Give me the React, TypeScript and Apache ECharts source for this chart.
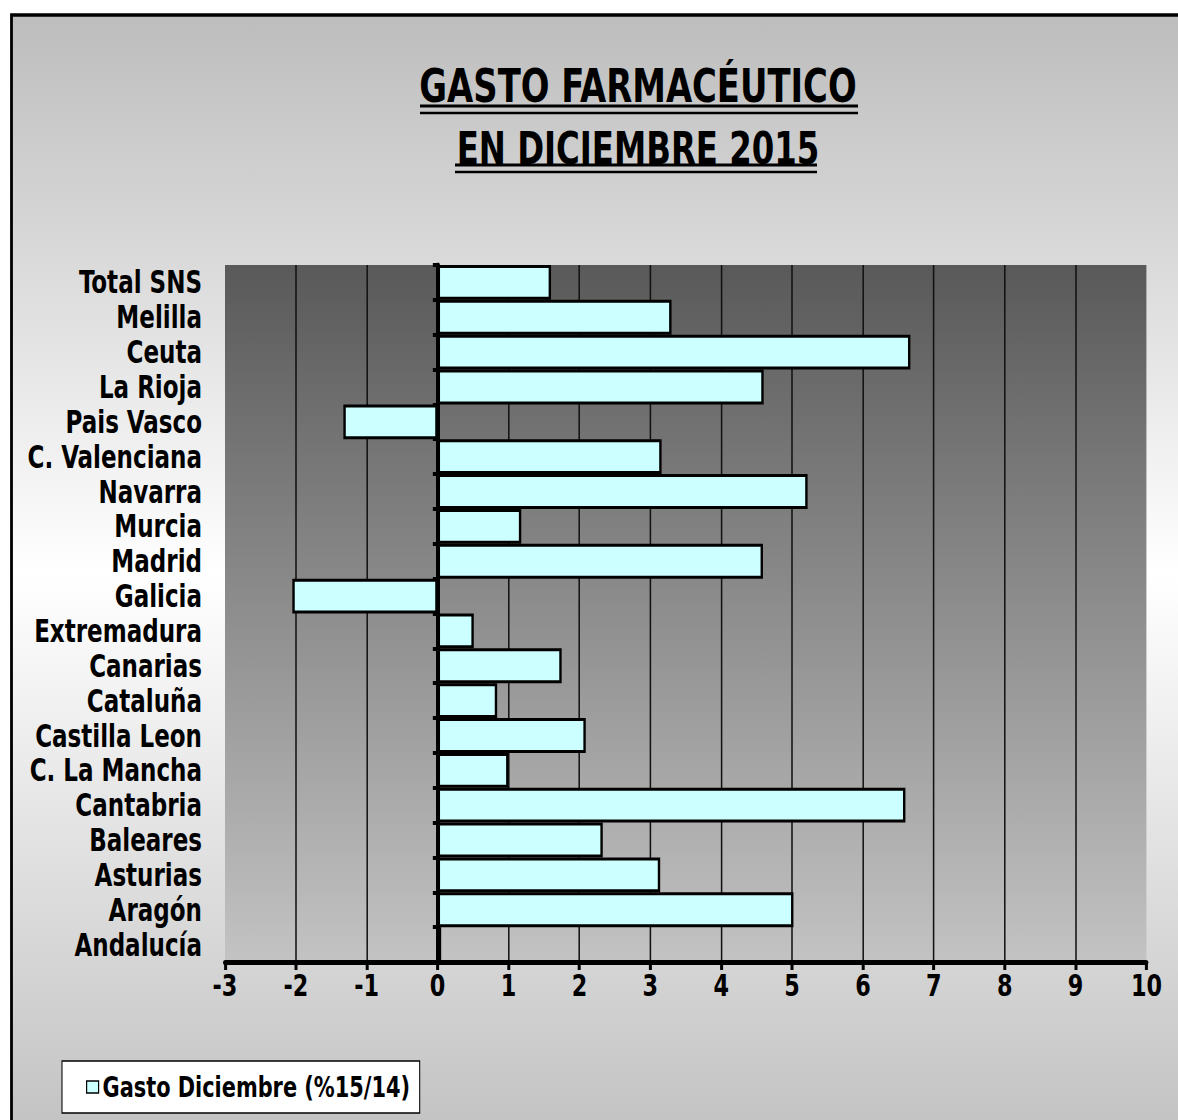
import React, { useEffect, useRef } from "react";
import * as echarts from "echarts";

const categories = [
  "Andalucía",
  "Aragón",
  "Asturias",
  "Baleares",
  "Cantabria",
  "C. La Mancha",
  "Castilla Leon",
  "Cataluña",
  "Canarias",
  "Extremadura",
  "Galicia",
  "Madrid",
  "Murcia",
  "Navarra",
  "C. Valenciana",
  "Pais Vasco",
  "La Rioja",
  "Ceuta",
  "Melilla",
  "Total SNS",
];

const gastoValues = [
  0.05, 5.02, 3.14, 2.33, 6.6, 1.0, 2.09, 0.84, 1.75, 0.51, -2.05, 4.59, 1.18,
  5.22, 3.16, -1.33, 4.6, 6.67, 3.3, 1.6,
];

const seriesName = "Gasto Diciembre (%15/14)";
const titleLine1 = "GASTO FARMACÉUTICO";
const titleLine2 = "EN DICIEMBRE 2015";
const xMin = -3;
const xMax = 10;
const xInterval = 1;

// The chart is laid out in a wider space and compressed horizontally,
// giving the tall, narrow lettering of the original.
const SX = 0.8;
const VIEW_W = 1178;
const VIEW_H = 1120;
const W = VIEW_W / SX;

const FONT = '"DejaVu Sans Condensed", "Liberation Sans", sans-serif';

export default function App() {
  const ref = useRef<HTMLDivElement>(null);

  useEffect(() => {
    if (!ref.current) return;
    const chart = echarts.init(ref.current, undefined, { renderer: "svg" });

    const titleCx = 638 / SX;

    const option = {
      animation: false,
      backgroundColor: "#ffffff",
      graphic: [
        {
          type: "rect",
          z: -10,
          shape: { x: 11.5 / SX, y: 15, width: W, height: VIEW_H },
          style: {
            fill: {
              type: "linear",
              x: 0,
              y: 0,
              x2: 0,
              y2: 1,
              colorStops: [
                { offset: 0, color: "#bdbdbd" },
                { offset: 0.5, color: "#ffffff" },
                { offset: 1, color: "#c2c2c2" },
              ],
            },
            stroke: "#000",
            lineWidth: 3.5,
          },
        },
        {
          type: "text",
          x: titleCx,
          y: 85,
          style: {
            text: titleLine1,
            fontFamily: FONT,
            fontSize: 47,
            fontWeight: "bold",
            fill: "#000",
            align: "center",
            verticalAlign: "middle",
          },
        },
        {
          type: "text",
          x: titleCx,
          y: 149,
          style: {
            text: titleLine2,
            fontFamily: FONT,
            fontSize: 45,
            fontWeight: "bold",
            fill: "#000",
            align: "center",
            verticalAlign: "middle",
          },
        },
        { type: "line", shape: { x1: 420 / SX, y1: 106, x2: 858 / SX, y2: 106 }, style: { stroke: "#000", lineWidth: 3 } },
        { type: "line", shape: { x1: 420 / SX, y1: 113, x2: 858 / SX, y2: 113 }, style: { stroke: "#000", lineWidth: 2.5 } },
        { type: "line", shape: { x1: 455 / SX, y1: 165, x2: 817 / SX, y2: 165 }, style: { stroke: "#000", lineWidth: 3 } },
        { type: "line", shape: { x1: 455 / SX, y1: 172, x2: 817 / SX, y2: 172 }, style: { stroke: "#000", lineWidth: 2.5 } },
      ],
      legend: {
        show: true,
        left: 62 / SX,
        top: 1061,
        orient: "horizontal",
        backgroundColor: "#ffffff",
        borderColor: "#000",
        borderWidth: 1.3,
        padding: [10, 12, 10, 30],
        itemWidth: 12 / SX,
        itemHeight: 12,
        icon: "rect",
        itemStyle: { color: "#ccffff", borderColor: "#000", borderWidth: 1.5 },
        textStyle: {
          fontFamily: FONT,
          fontSize: 29,
          fontWeight: "bold",
          color: "#000",
          lineHeight: 32,
        },
        data: [seriesName],
      },
      grid: {
        left: 225 / SX,
        right: 32 / SX,
        top: 265,
        bottom: 158,
        outerBoundsMode: "none",
        containLabel: false,
        show: true,
        borderWidth: 0,
        backgroundColor: {
          type: "linear",
          x: 0,
          y: 0,
          x2: 0,
          y2: 1,
          colorStops: [
            { offset: 0, color: "#595959" },
            { offset: 1, color: "#c3c3c3" },
          ],
        },
      },
      xAxis: [
        {
          type: "value",
          position: "bottom",
          min: xMin,
          max: xMax,
          interval: xInterval,
          axisLine: { show: false },
          axisTick: { show: false },
          axisLabel: { show: false },
          splitLine: {
            show: true,
            showMinLine: false,
            showMaxLine: false,
            lineStyle: { color: "#111", width: 1.9 },
          },
        },
        {
          type: "value",
          position: "bottom",
          min: xMin,
          max: xMax,
          interval: xInterval,
          z: 6,
          axisLine: { show: true, onZero: false, lineStyle: { color: "#000", width: 5 } },
          axisTick: { show: true, length: 8, lineStyle: { color: "#000", width: 3.75 } },
          axisLabel: {
            show: true,
            margin: 8,
            fontFamily: FONT,
            fontSize: 31,
            fontWeight: "bold",
            color: "#000",
          },
          splitLine: { show: false },
        },
      ],
      yAxis: [
        {
          type: "category",
          position: "left",
          data: categories,
          axisLine: { show: false },
          axisTick: { show: false },
          axisLabel: {
            show: true,
            interval: 0,
            margin: 23 / SX,
            fontFamily: FONT,
            fontSize: 32,
            fontWeight: "bold",
            color: "#000",
          },
          splitLine: { show: false },
        },
        {
          type: "category",
          position: "left",
          data: categories,
          z: 6,
          axisLine: { show: true, onZero: true, lineStyle: { color: "#000", width: 5 } },
          axisTick: { show: true, interval: 0, length: 6, lineStyle: { color: "#000", width: 4 } },
          axisLabel: { show: false },
          splitLine: { show: false },
        },
      ],
      series: [
        {
          name: seriesName,
          type: "bar",
          xAxisIndex: 0,
          yAxisIndex: 0,
          data: gastoValues,
          barCategoryGap: "0%",
          itemStyle: { color: "#ccffff", borderColor: "#000", borderWidth: 3 },
        },
      ],
    };

    chart.setOption(option as any);
    return () => chart.dispose();
  }, []);

  return (
    <div
      style={{
        position: "absolute",
        left: 0,
        top: 0,
        width: VIEW_W,
        height: VIEW_H,
        overflow: "hidden",
      }}
    >
      <div
        ref={ref}
        style={{
          width: W,
          height: VIEW_H,
          transform: `scaleX(${SX})`,
          transformOrigin: "0 0",
        }}
      />
    </div>
  );
}
